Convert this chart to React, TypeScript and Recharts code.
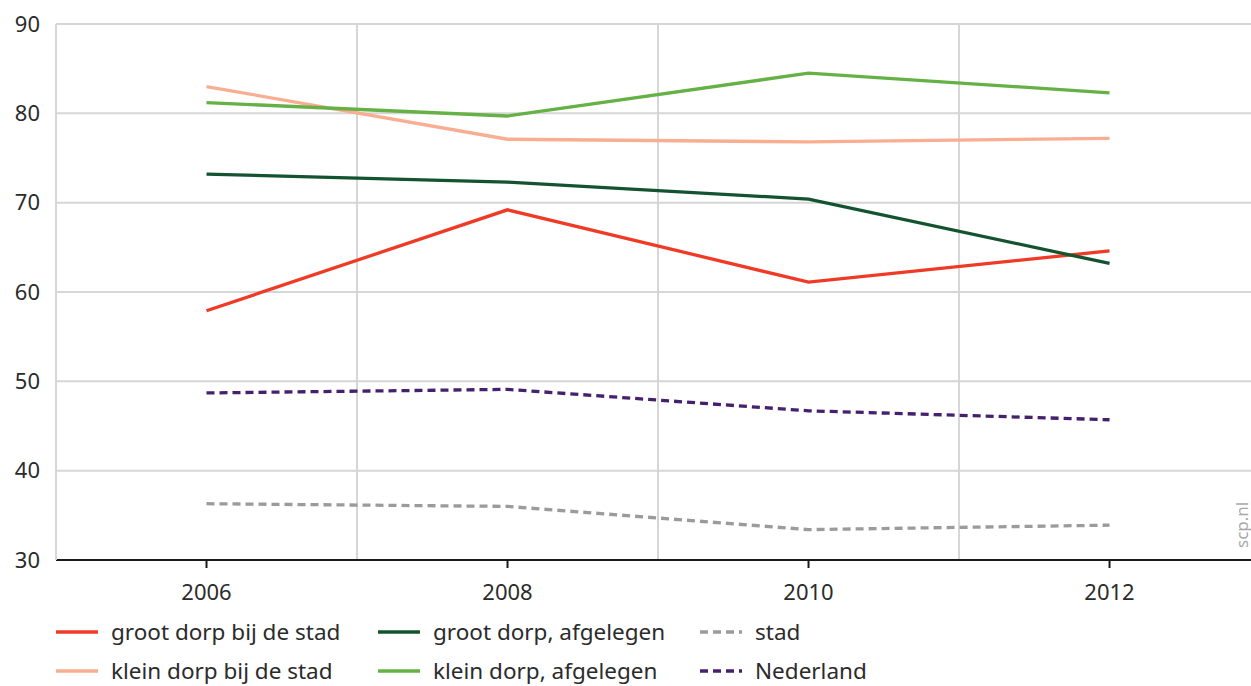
import React from 'react';
import {
  LineChart,
  Line,
  XAxis,
  YAxis,
  CartesianGrid,
  ReferenceLine,
  Legend,
} from 'recharts';

// data
const years = [2006, 2008, 2010, 2012];
const grootDorpBijStad = [57.9, 69.2, 61.1, 64.6];
const kleinDorpBijStad = [83.0, 77.1, 76.8, 77.2];
const grootDorpAfgelegen = [73.2, 72.3, 70.4, 63.2];
const kleinDorpAfgelegen = [81.2, 79.7, 84.5, 82.3];
const stad = [36.3, 36.0, 33.4, 33.9];
const nederland = [48.7, 49.1, 46.7, 45.7];

const yTicks = [30, 40, 50, 60, 70, 80, 90];
const xTicks = [2006, 2008, 2010, 2012];
const oddYears = [2007, 2009, 2011];

const series = [
  { key: 'grootDorpBijStad', name: 'groot dorp bij de stad', values: grootDorpBijStad, color: '#ef3a26', dash: undefined },
  { key: 'kleinDorpBijStad', name: 'klein dorp bij de stad', values: kleinDorpBijStad, color: '#f9ae91', dash: undefined },
  { key: 'grootDorpAfgelegen', name: 'groot dorp, afgelegen', values: grootDorpAfgelegen, color: '#13532f', dash: undefined },
  { key: 'kleinDorpAfgelegen', name: 'klein dorp, afgelegen', values: kleinDorpAfgelegen, color: '#66b146', dash: undefined },
  { key: 'stad', name: 'stad', values: stad, color: '#9b9b9b', dash: '8 5' },
  { key: 'nederland', name: 'Nederland', values: nederland, color: '#45206e', dash: '8 5' },
];

const data = years.map((year, i) => {
  const row: Record<string, number> = { year };
  series.forEach((s) => {
    row[s.key] = s.values[i];
  });
  return row;
});

const FONT = '"Noto Sans", "Open Sans", sans-serif';
const TEXT = '#2b2b2b';
const GRID = '#d6d6d6';

const LegendContent = () => (
  <div
    style={{
      display: 'grid',
      gridTemplateColumns: 'repeat(3, 322px)',
      gridTemplateRows: 'repeat(2, 39px)',
      gridAutoFlow: 'column',
      paddingLeft: 56,
      paddingTop: 6,
      height: 80,
      boxSizing: 'border-box',
      fontFamily: FONT,
      fontSize: 22.5,
      color: TEXT,
    }}
  >
    {series.map((s) => (
      <div key={s.key} style={{ display: 'flex', alignItems: 'center' }}>
        <svg width={42} height={6} style={{ marginRight: 13 }}>
          <line x1={0} y1={3} x2={42} y2={3} stroke={s.color} strokeWidth={3.5} strokeDasharray={s.dash} />
        </svg>
        <span>{s.name}</span>
      </div>
    ))}
  </div>
);

const App: React.FC = () => {
  return (
    <div style={{ position: 'absolute', left: 0, top: 0, width: 1251, height: 686, background: '#fff' }}>
      <LineChart
        width={1251}
        height={686}
        data={data}
        margin={{ top: 24, right: 0, bottom: 0, left: 0 }}
      >
        <CartesianGrid vertical={false} stroke={GRID} strokeWidth={2} />
        {oddYears.map((y) => (
          <ReferenceLine key={y} x={y} stroke={GRID} strokeWidth={2} />
        ))}
        <XAxis
          dataKey="year"
          type="number"
          domain={[2005, 2012.94]}
          ticks={xTicks}
          allowDataOverflow
          height={46}
          axisLine={{ stroke: '#1a1a1a', strokeWidth: 2 }}
          tickLine={{ stroke: '#1a1a1a', strokeWidth: 2 }}
          tickSize={8}
          tickMargin={16}
          tick={{ fill: TEXT, fontSize: 22, fontFamily: FONT }}
        />
        <YAxis
          domain={[30, 90]}
          ticks={yTicks}
          width={56}
          axisLine={{ stroke: GRID, strokeWidth: 2 }}
          tickLine={false}
          tickSize={0}
          tickMargin={16}
          tick={{ fill: TEXT, fontSize: 22, fontFamily: FONT }}
        />
        {series.map((s) => (
          <Line
            key={s.key}
            dataKey={s.key}
            name={s.name}
            type="linear"
            stroke={s.color}
            strokeWidth={3.3}
            strokeDasharray={s.dash}
            dot={false}
            activeDot={false}
            isAnimationActive={false}
          />
        ))}
        <Legend
          verticalAlign="bottom"
          content={<LegendContent />}
          wrapperStyle={{ top: 606, left: 0, width: 1251 }}
        />
      </LineChart>
      <div
        style={{
          position: 'absolute',
          left: 1233,
          top: 548,
          transform: 'rotate(-90deg)',
          transformOrigin: 'left top',
          fontFamily: FONT,
          fontSize: 17,
          lineHeight: '17px',
          color: '#a8a8a8',
          whiteSpace: 'nowrap',
        }}
      >
        scp.nl
      </div>
    </div>
  );
};

export default App;
